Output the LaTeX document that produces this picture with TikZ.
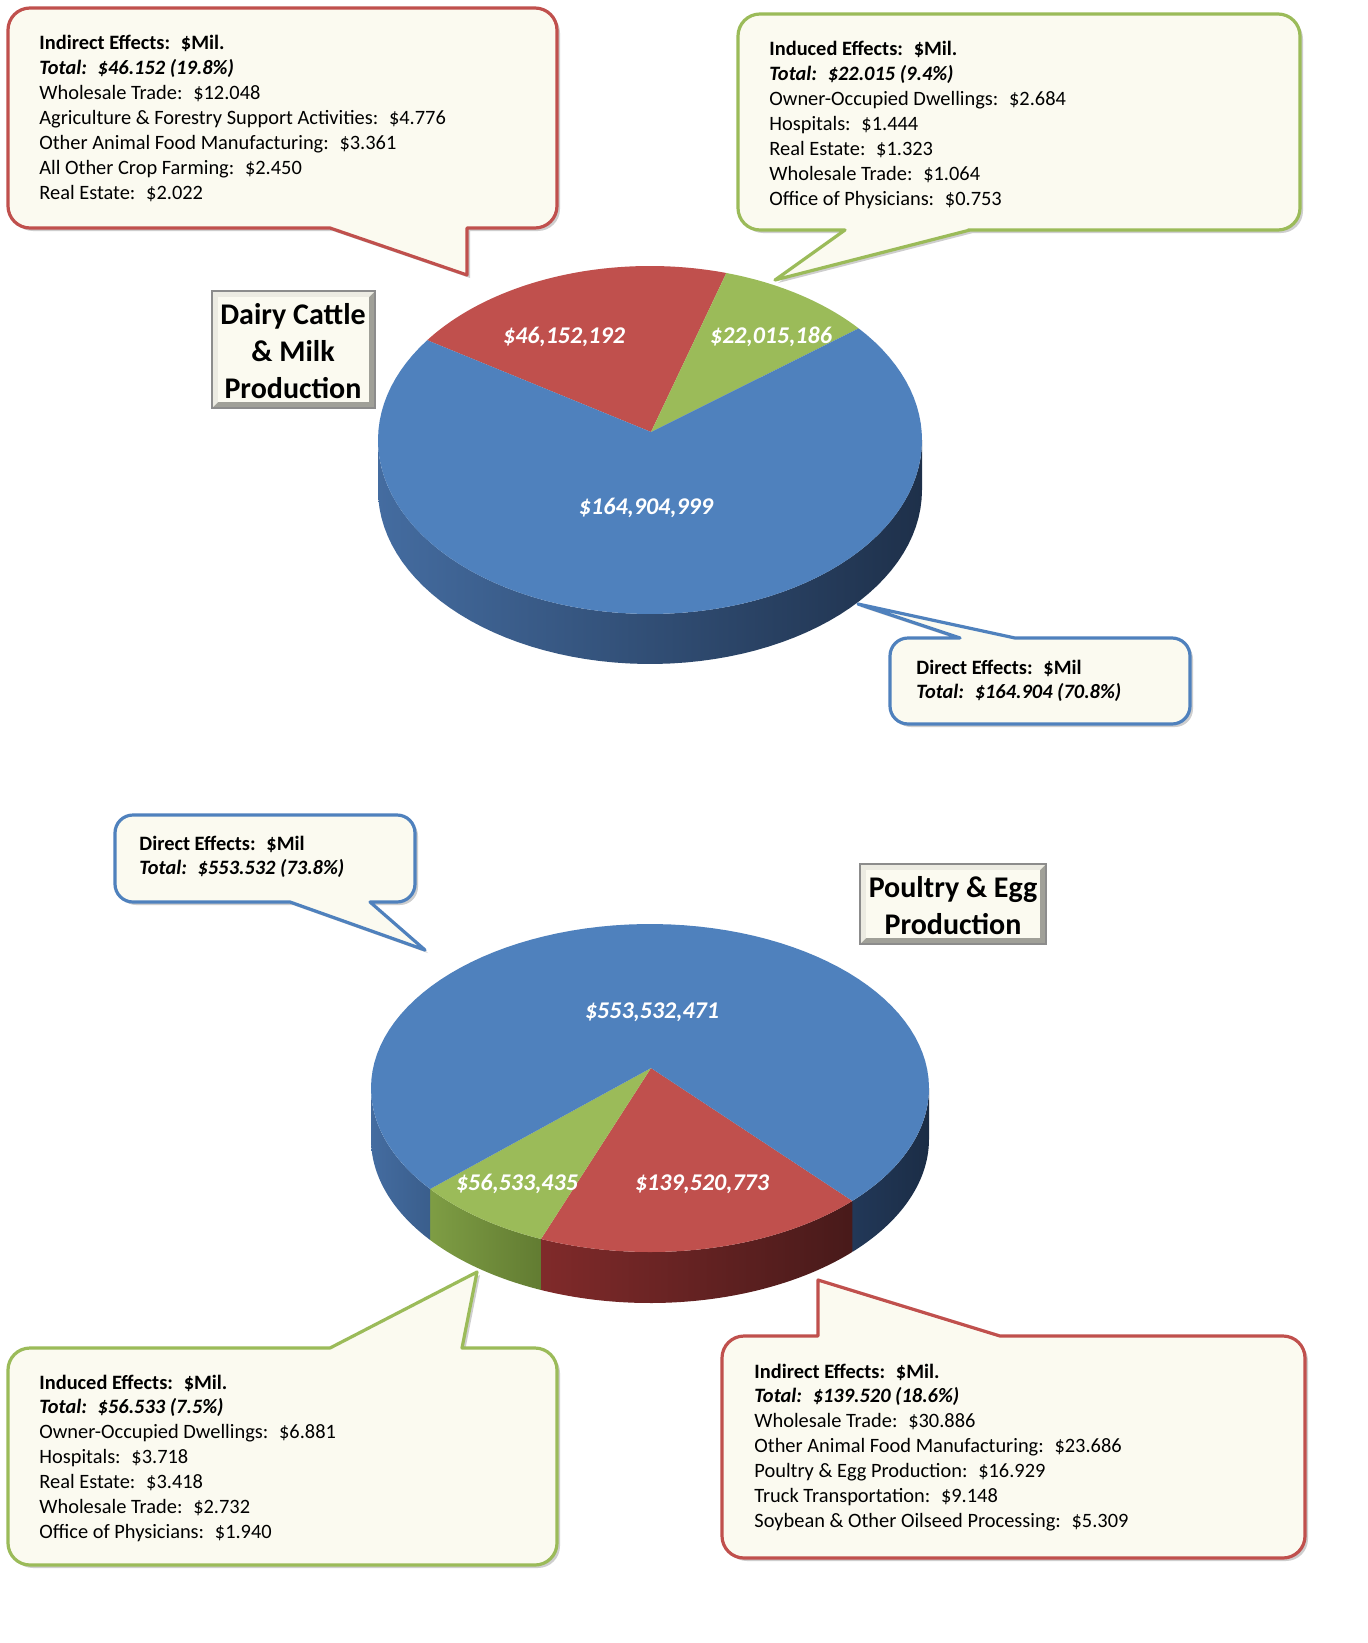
\documentclass[tikz,border=0pt]{standalone}
\usepackage{fontspec}
\setmainfont{Carlito}
\usetikzlibrary{shadows}

\definecolor{slicered}{RGB}{192,80,77}
\definecolor{slicegreen}{RGB}{155,187,89}
\definecolor{sliceblue}{RGB}{79,129,189}
\definecolor{papercream}{RGB}{251,250,240}
\definecolor{bevlight}{RGB}{236,235,226}
\definecolor{bevdark}{RGB}{160,160,152}

\tikzset{
  bodytext/.style={font=\fontsize{10.2}{12.4}\selectfont, inner sep=0pt, anchor=base west},
  slicetext/.style={font=\fontsize{12}{14}\selectfont\bfseries\itshape, text=white, inner sep=0pt},
  titletext/.style={font=\fontsize{15}{18}\selectfont\bfseries, inner sep=0pt, anchor=base},
  callout/.style={line width=1.6pt, fill=papercream, line join=round,
    drop shadow={shadow xshift=1.5pt, shadow yshift=-1.5pt, opacity=0.35, fill=black!55}},
}

% top face slice: vertex x, vertex y, from, to, colour
\newcommand{\pietop}[5]{%
  \fill[#5] (#1,#2) -- plot[domain=#3:#4, samples=90] ({\pcx+\prx*cos(\x)},{\pcy+\pry*sin(\x)}) -- cycle;}
% rim piece: from, to, left colour, right colour
\newcommand{\pieside}[4]{%
  \shade[left color=#3, right color=#4]
    plot[domain=#1:#2, samples=60] ({\pcx+\prx*cos(\x)},{\pcy+\pry*sin(\x)})
    -- plot[domain=#2:#1, samples=60] ({\pcx+\prx*cos(\x)},{\pcy+\pdep+\pry*sin(\x)}) -- cycle;}
% lines of a callout: name, x, first baseline, list
\newcommand{\calloutlines}[4]{%
  \foreach \entry [count=\i from 0] in {#4}
    \node[bodytext] (#1-\i) at (#2,{#3+24.85*\i}) {\entry};}
% bevelled title frame
\newcommand{\bevelbox}[4]{%
  \fill[bevdark] (#1,#2) rectangle (#3,#4);
  \fill[bevlight] (#1,#2) -- (#3,#2) -- (#3-6,#2+6) -- (#1+6,#2+6) -- (#1+6,#4-6) -- (#1,#4) -- cycle;
  \fill[papercream] (#1+6,#2+6) rectangle (#3-6,#4-6);
  \draw[black!45, line width=0.6pt] (#1,#2) rectangle (#3,#4);}

\begin{document}
\begin{tikzpicture}[x=0.5pt,y=-0.5pt]
\useasboundingbox[fill=white] (0,0) rectangle (1368,1643);

% dairy pie
\begin{scope}
\def\pcx{650}\def\pcy{440}\def\prx{272}\def\pry{174}\def\pdep{50}
\pieside{0}{180}{{rgb,255:red,68;green,108;blue,160}}{{rgb,255:red,30;green,48;blue,74}}
\pietop{651}{432}{215}{286.3}{slicered}
\pietop{651}{432}{286.3}{320.1}{slicegreen}
\pietop{651}{432}{320.1}{575}{sliceblue}
\end{scope}
\node[slicetext] (dairyindirect) at (564,337) {\$46,152,192};
\node[slicetext] (dairyinduced) at (771,337) {\$22,015,186};
\node[slicetext] (dairydirect) at (646,508) {\$164,904,999};

% poultry pie
\begin{scope}
\def\pcx{650}\def\pcy{1088}\def\prx{279}\def\pry{164}\def\pdep{51}
\pieside{0}{43.5}{{rgb,255:red,34;green,56;blue,88}}{{rgb,255:red,27;green,45;blue,70}}
\pieside{43.5}{113}{{rgb,255:red,128;green,42;blue,42}}{{rgb,255:red,72;green,26;blue,26}}
\pieside{113}{142}{{rgb,255:red,126;green,157;blue,68}}{{rgb,255:red,98;green,124;blue,50}}
\pieside{142}{180}{{rgb,255:red,68;green,108;blue,160}}{{rgb,255:red,58;green,94;blue,140}}
\pietop{651}{1068}{43.5}{113}{slicered}
\pietop{651}{1068}{113}{142}{slicegreen}
\pietop{651}{1068}{142}{403.5}{sliceblue}
\end{scope}
\node[slicetext] (poultrydirect) at (652,1012) {\$553,532,471};
\node[slicetext] (poultryinduced) at (517,1184) {\$56,533,435};
\node[slicetext] (poultryindirect) at (702,1184) {\$139,520,773};

% titles
\bevelbox{212}{291}{375}{408}
\node[titletext] (dairytitle-0) at (293,324) {Dairy Cattle};
\node[titletext] (dairytitle-1) at (293,361) {\& Milk};
\node[titletext] (dairytitle-2) at (293,398) {Production};
\bevelbox{860}{864}{1046}{944}
\node[titletext] (poultrytitle-0) at (953,897) {Poultry \& Egg};
\node[titletext] (poultrytitle-1) at (953,934) {Production};

% dairy callouts
\draw[callout, draw=slicered] (330,228) [rounded corners=11pt] -- (8,228) -- (8,8) -- (557,8) -- (557,228) -- (490,228) [sharp corners] -- (467,228) -- (467,275) -- cycle;
\calloutlines{dairyind}{39}{50}{\textbf{Indirect Effects:~ \$Mil.},
  \textbf{\textit{Total:~ \$46.152 (19.8\%)}},
  Wholesale Trade:~ \$12.048,
  Agriculture \& Forestry Support Activities:~ \$4.776,
  Other Animal Food Manufacturing:~ \$3.361,
  All Other Crop Farming:~ \$2.450,
  Real Estate:~ \$2.022}

\draw[callout, draw=slicegreen] (845,230) [rounded corners=11pt] -- (738,230) -- (738,14) -- (1300,14) -- (1300,230) -- (990,230) [sharp corners] -- (970,230) -- (775,280) -- cycle;
\calloutlines{dairyinu}{769}{56}{\textbf{Induced Effects:~ \$Mil.},
  \textbf{\textit{Total:~ \$22.015 (9.4\%)}},
  Owner-Occupied Dwellings:~ \$2.684,
  Hospitals:~ \$1.444,
  Real Estate:~ \$1.323,
  Wholesale Trade:~ \$1.064,
  Office of Physicians:~ \$0.753}

\draw[callout, draw=sliceblue] (1015,638) [rounded corners=9pt] -- (1190,638) -- (1190,724) -- (890,724) -- (890,638) -- (940,638) [sharp corners] -- (960,638) -- (858,604) -- cycle;
\calloutlines{dairydir}{916}{674}{\textbf{Direct Effects:~ \$Mil},
  \textbf{\textit{Total:~ \$164.904 (70.8\%)}}}

% poultry callouts
\draw[callout, draw=sliceblue] (370,902) [rounded corners=9pt] -- (415,902) -- (415,815) -- (115,815) -- (115,902) -- (270,902) [sharp corners] -- (290,902) -- (425,950) -- cycle;
\calloutlines{poultrydir}{139}{850}{\textbf{Direct Effects:~ \$Mil},
  \textbf{\textit{Total:~ \$553.532 (73.8\%)}}}

\draw[callout, draw=slicegreen] (330,1348) [rounded corners=11pt] -- (8,1348) -- (8,1565) -- (557,1565) -- (557,1348) -- (485,1348) [sharp corners] -- (462,1348) -- (477,1272) -- cycle;
\calloutlines{poultryinu}{39}{1389}{\textbf{Induced Effects:~ \$Mil.},
  \textbf{\textit{Total:~ \$56.533 (7.5\%)}},
  Owner-Occupied Dwellings:~ \$6.881,
  Hospitals:~ \$3.718,
  Real Estate:~ \$3.418,
  Wholesale Trade:~ \$2.732,
  Office of Physicians:~ \$1.940}

\draw[callout, draw=slicered] (1000,1336) [rounded corners=11pt] -- (1305,1336) -- (1305,1558) -- (722,1558) -- (722,1336) -- (795,1336) [sharp corners] -- (818,1336) -- (818,1280) -- cycle;
\calloutlines{poultryind}{754}{1378}{\textbf{Indirect Effects:~ \$Mil.},
  \textbf{\textit{Total:~ \$139.520 (18.6\%)}},
  Wholesale Trade:~ \$30.886,
  Other Animal Food Manufacturing:~ \$23.686,
  Poultry \& Egg Production:~ \$16.929,
  Truck Transportation:~ \$9.148,
  Soybean \& Other Oilseed Processing:~ \$5.309}
\end{tikzpicture}
\end{document}
